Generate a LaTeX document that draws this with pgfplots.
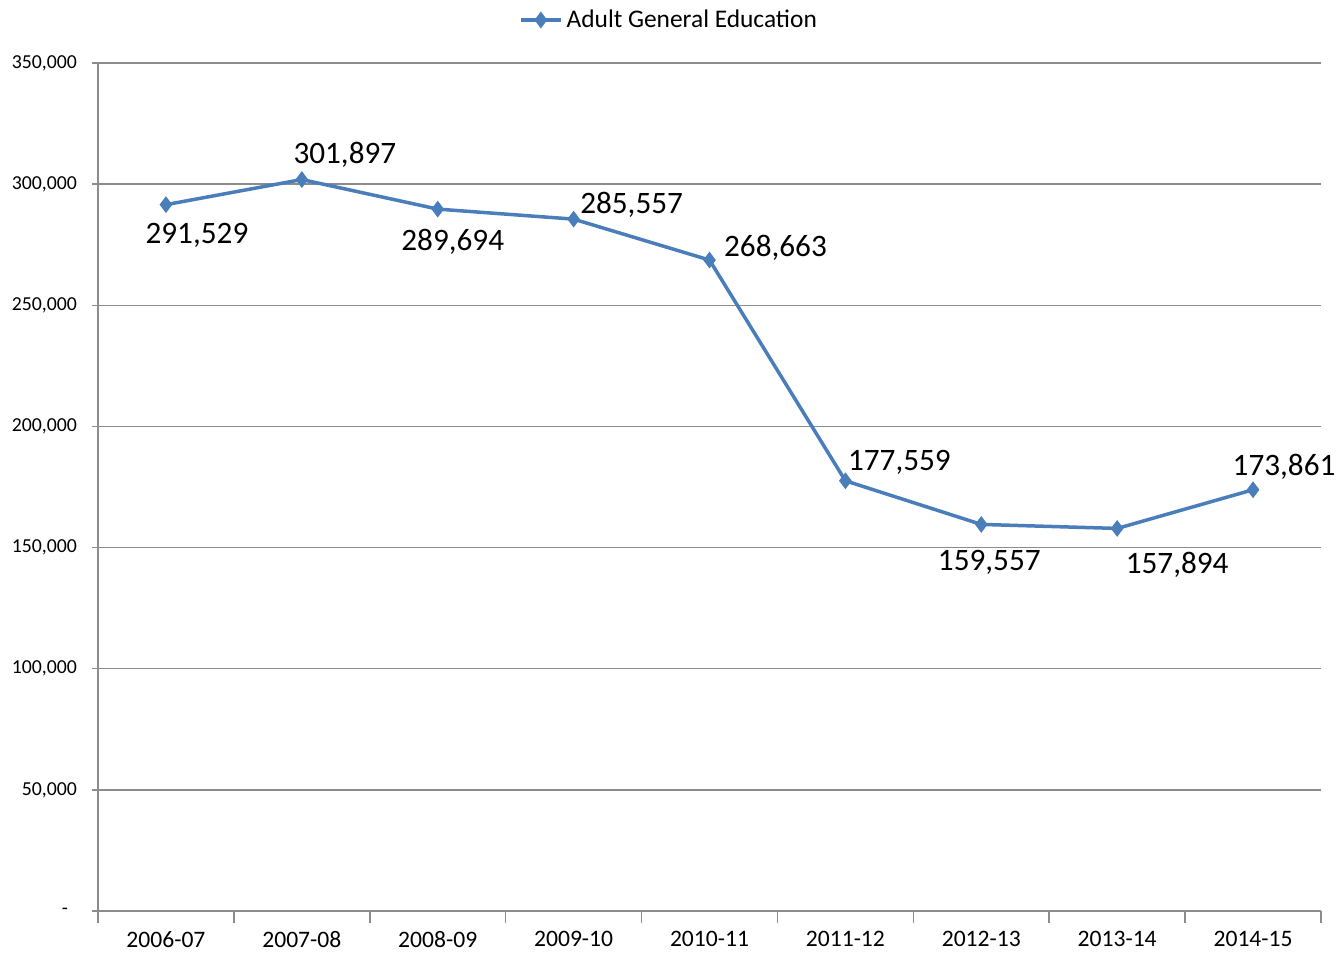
\documentclass[border=0pt]{standalone}
\usepackage{pgfplots}
\pgfplotsset{compat=1.18}
\usepackage{pgfplotstable}
\usepackage{fontspec}
\setmainfont{Carlito}
\definecolor{lineblue}{HTML}{4A7EBB}
\definecolor{gridgray}{HTML}{8C8C8C}
\pgfplotstableread{
x y dx dy
0 291529 15.5 -15.5
1 301897 21.5 12.5
2 289694 7.5 -16.5
3 285557 29 7
4 268663 33 6
5 177559 27 9
6 159557 4 -19
7 157894 30 -18
8 173861 15.5 11.5
}\datatable
\begin{document}
\begin{tikzpicture}
\useasboundingbox (-49pt,-21pt) rectangle (620pt,455.5pt);
\begin{axis}[
  at={(0,0)}, anchor=south west,
  scale only axis,
  width=611.5pt, height=424pt,
  xmin=-0.5, xmax=8.5,
  ymin=0, ymax=350000,
  scaled y ticks=false,
  axis x line*=bottom, axis y line*=left,
  axis line style={gridgray, line width=0.75pt},
  xtick={0,...,8},
  xticklabels={2006-07,2007-08,2008-09,2009-10,2010-11,2011-12,2012-13,2013-14,2014-15},
  major x tick style={draw=none},
  minor xtick={-0.5,0.5,...,8.5},
  minor x tick style={gridgray, line width=0.75pt},
  minor tick length=6pt,
  xtick align=outside,
  x tick label style={font=\fontsize{11.8}{14}\selectfont, yshift=-6.5pt, inner ysep=0.5pt},
  ytick={0,50000,...,350000},
  yticklabels={{-\hspace*{4.5pt}},{50,000},{100,000},{150,000},{200,000},{250,000},{300,000},{350,000}},
  y tick label style={font=\fontsize{9.9}{12}\selectfont, xshift=-4pt},
  ytick align=outside,
  major tick length=3pt,
  major y tick style={gridgray, line width=0.75pt},
  ymajorgrids,
  grid style={gridgray, line width=0.75pt},
  legend style={at={(axis description cs:0.5,1)}, anchor=center, xshift=-19.75pt, yshift=21.5pt, draw=none, fill=none, font=\fontsize{12.7}{15}\selectfont, inner sep=0pt},
  legend image code/.code={\draw[#1, mark repeat=2, mark phase=2] plot coordinates {(0pt,0pt) (10pt,0pt) (20pt,0pt)};},
  clip=false,
]
\addplot[color=lineblue, line width=1.75pt, mark=diamond*, mark size=3.8pt, mark options={fill=lineblue, draw=lineblue, line width=0.5pt},
  point meta=explicit,
  visualization depends on={\thisrow{dx}\as\dx},
  visualization depends on={\thisrow{dy}\as\dy},
  nodes near coords={\pgfmathprintnumber[fixed, precision=0, 1000 sep={,}, assume math mode=true]{\pgfplotspointmeta}},
  every node near coord/.append style={anchor=center, xshift=\dx pt, yshift=\dy pt, text=black, font=\fontsize{15.6}{18}\selectfont},
] table[x=x, y=y, meta=y] {\datatable};
\addlegendentry{Adult General Education}
\end{axis}
\end{tikzpicture}
\end{document}
